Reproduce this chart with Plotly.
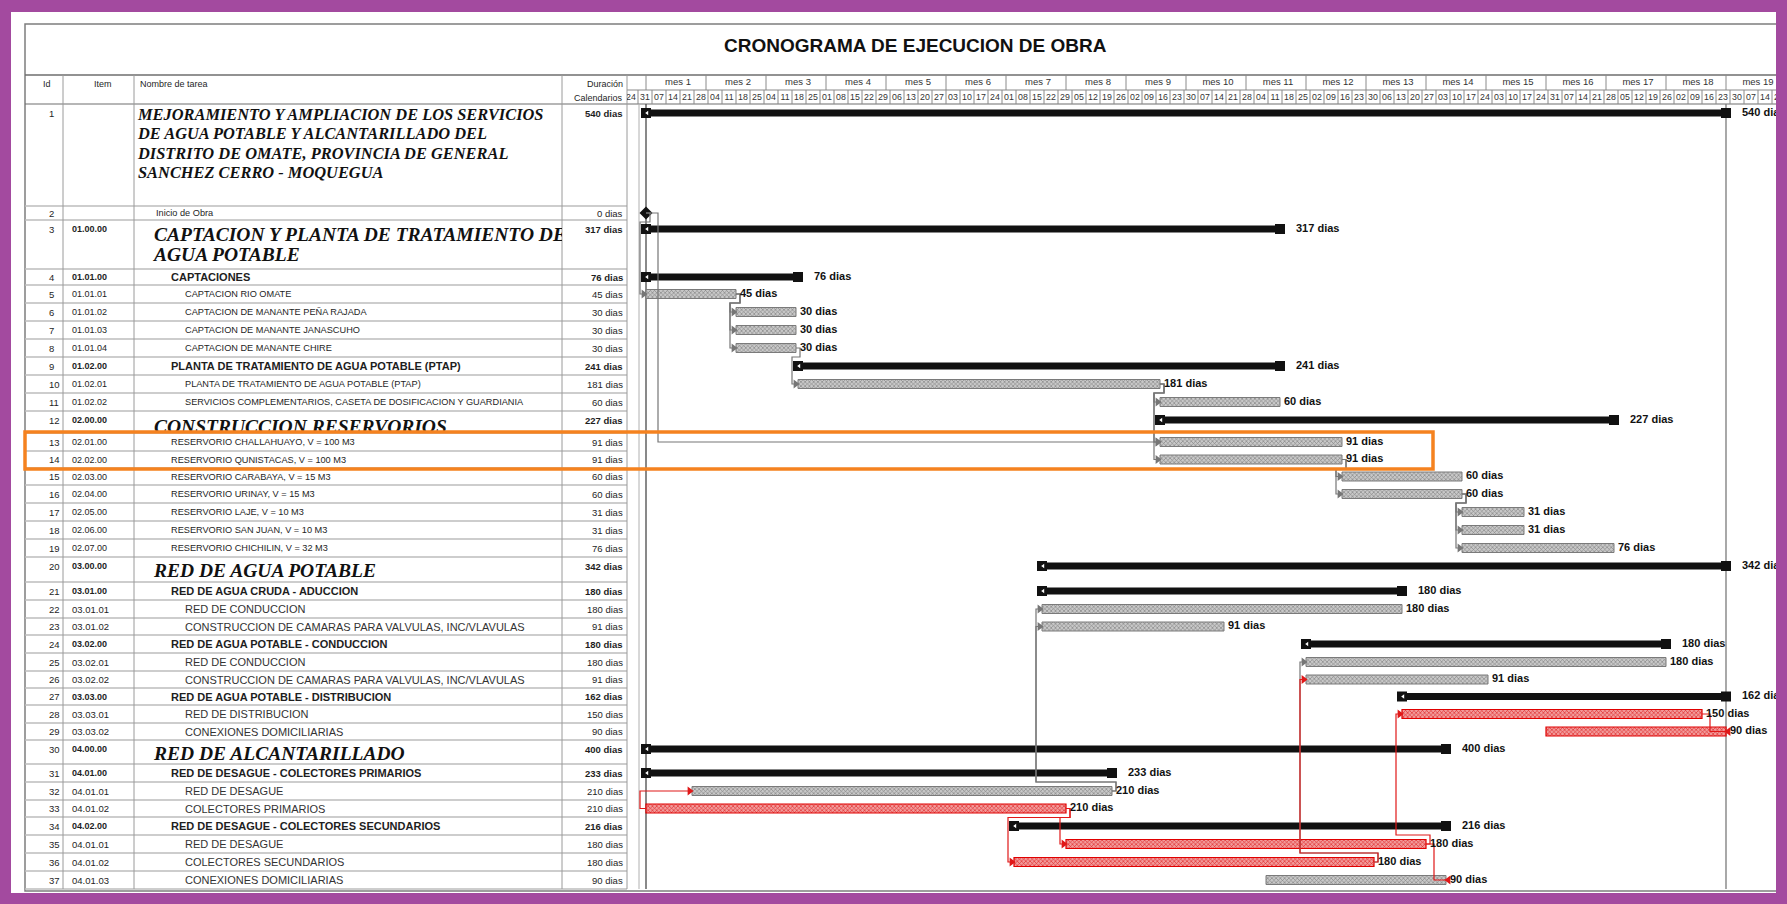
import datetime as dt
import plotly.graph_objects as go

# ---------------- data ----------------
task_ids = list(range(1, 38))
items = ["", "", "01.00.00", "01.01.00", "01.01.01", "01.01.02", "01.01.03", "01.01.04",
         "01.02.00", "01.02.01", "01.02.02", "02.00.00", "02.01.00", "02.02.00", "02.03.00",
         "02.04.00", "02.05.00", "02.06.00", "02.07.00", "03.00.00", "03.01.00", "03.01.01",
         "03.01.02", "03.02.00", "03.02.01", "03.02.02", "03.03.00", "03.03.01", "03.03.02",
         "04.00.00", "04.01.00", "04.01.01", "04.01.02", "04.02.00", "04.01.01", "04.01.02",
         "04.01.03"]
task_names = [
    "MEJORAMIENTO Y AMPLIACION DE LOS SERVICIOS<br>DE AGUA POTABLE Y ALCANTARILLADO DEL<br>"
    "DISTRITO DE OMATE, PROVINCIA DE GENERAL<br>SANCHEZ CERRO - MOQUEGUA",
    "Inicio de Obra",
    "CAPTACION Y PLANTA DE TRATAMIENTO DE<br>AGUA POTABLE",
    "CAPTACIONES",
    "CAPTACION RIO OMATE",
    "CAPTACION DE MANANTE PEÑA RAJADA",
    "CAPTACION DE MANANTE JANASCUHO",
    "CAPTACION DE MANANTE CHIRE",
    "PLANTA DE TRATAMIENTO DE AGUA POTABLE (PTAP)",
    "PLANTA DE TRATAMIENTO DE AGUA POTABLE (PTAP)",
    "SERVICIOS COMPLEMENTARIOS, CASETA DE DOSIFICACION Y GUARDIANIA",
    "CONSTRUCCION RESERVORIOS",
    "RESERVORIO CHALLAHUAYO, V = 100 M3",
    "RESERVORIO QUNISTACAS, V = 100 M3",
    "RESERVORIO CARABAYA, V = 15 M3",
    "RESERVORIO URINAY, V = 15 M3",
    "RESERVORIO LAJE, V = 10 M3",
    "RESERVORIO SAN JUAN, V = 10 M3",
    "RESERVORIO CHICHILIN, V = 32 M3",
    "RED DE AGUA POTABLE",
    "RED DE AGUA CRUDA - ADUCCION",
    "RED DE CONDUCCION",
    "CONSTRUCCION DE CAMARAS PARA VALVULAS, INC/VLAVULAS",
    "RED DE AGUA POTABLE - CONDUCCION",
    "RED DE CONDUCCION",
    "CONSTRUCCION DE CAMARAS PARA VALVULAS, INC/VLAVULAS",
    "RED DE AGUA POTABLE - DISTRIBUCION",
    "RED DE DISTRIBUCION",
    "CONEXIONES DOMICILIARIAS",
    "RED DE ALCANTARILLADO",
    "RED DE DESAGUE - COLECTORES PRIMARIOS",
    "RED DE DESAGUE",
    "COLECTORES PRIMARIOS",
    "RED DE DESAGUE - COLECTORES SECUNDARIOS",
    "RED DE DESAGUE",
    "COLECTORES SECUNDARIOS",
    "CONEXIONES DOMICILIARIAS",
]
durations = [540, 0, 317, 76, 45, 30, 30, 30, 241, 181, 60, 227, 91, 91, 60, 60, 31, 31, 76,
             342, 180, 180, 91, 180, 180, 91, 162, 150, 90, 400, 233, 210, 210, 216, 180, 180, 90]
starts = [0, 0, 0, 0, 0, 45, 45, 45, 76, 76, 257, 257, 257, 257, 348, 348, 408, 408, 408,
          198, 198, 198, 198, 330, 330, 330, 378, 378, 450, 0, 0, 23, 0, 184, 210, 184, 310]
# S = summary, M = milestone, T = task, C = critical task
task_types = ["S", "M", "S", "S", "T", "T", "T", "T", "S", "T", "T", "S", "T", "T", "T", "T",
              "T", "T", "T", "S", "S", "T", "T", "S", "T", "T", "S", "C", "C", "S", "S", "T",
              "C", "S", "C", "C", "T"]
outline_levels = [0, 1, 1, 2, 3, 3, 3, 3, 2, 3, 3, 1, 2, 2, 2, 2, 2, 2, 2, 1, 2, 3, 3, 2, 3,
                  3, 2, 3, 3, 1, 2, 3, 3, 2, 3, 3, 3]
# (predecessor, successor, type, critical)
links = [(2, 5, "FS", False), (2, 13, "FS", False), (5, 6, "FS", False), (5, 7, "FS", False),
         (5, 8, "FS", False), (8, 10, "FS", False), (10, 11, "FS", False),
         (10, 13, "FS", False), (10, 14, "FS", False), (14, 15, "FS", False),
         (14, 16, "FS", False), (16, 17, "FS", False), (16, 18, "FS", False),
         (16, 19, "FS", False), (32, 22, "FS", False), (32, 23, "FS", False),
         (36, 25, "FS", False), (33, 32, "SS", True), (33, 35, "FS", True),
         (33, 36, "FS", True), (36, 26, "FS", True), (35, 28, "FS", True),
         (28, 29, "FF", True), (35, 37, "FF", True)]

project_start = dt.date(2018, 1, 4)
first_week = dt.date(2017, 12, 24)
week_labels = [(first_week + dt.timedelta(days=7 * k)).strftime("%d") for k in range(84)]
month_labels = [f"mes {k}" for k in range(1, 20)]
header_cols = ["Id", "Item", "Nombre de tarea", "Duración", "Calendarios"]
chart_title = "CRONOGRAMA DE EJECUCION DE OBRA"

# ---------------- layout constants ----------------
W, H = 1787, 904
X0, PXD = 646, 2.0          # pixel of day 0, pixels per day
TL_L, TL_R = 627, 1777      # timeline area
COLS = [25, 63, 134, 562, 627]
HDR_TOP, HDR_MID, HDR_BOT = 75, 90, 104
row_heights = [102, 14, 49, 16, 18, 18, 18, 18, 18, 18, 18, 22, 18, 17, 17, 18, 18, 18, 18,
               25, 18, 18, 17, 18, 18, 17, 17, 18, 17, 24, 18, 18, 17, 18, 18, 18, 18]
TABLE_BOT = 104 + sum(row_heights)

NARROW = "Liberation Sans Narrow, Arial Narrow, Liberation Sans, sans-serif"
SANS = "Liberation Sans, Arial, sans-serif"
SERIF = "Liberation Serif, Times New Roman, serif"
TXT = "#1e1e1e"
GRID = "#bdbdbd"
week_offset = (first_week - project_start).days

tops = []
y = HDR_BOT
for h in row_heights:
    tops.append(y)
    y += h
row_mid = [t + h / 2 for t, h in zip(tops, row_heights)]
text_y = [t + min(h / 2, 9) for t, h in zip(tops, row_heights)]
bar_y = text_y

def xp(px):
    return px / W

def day(px):
    return (px - X0) / PXD

fig = go.Figure()
shapes = []
annotations = []

def hline(x0, x1, yy, color=GRID, width=1, ref="paper"):
    shapes.append(dict(type="line", xref=ref, yref="y", x0=x0, x1=x1, y0=yy, y1=yy,
                       line=dict(color=color, width=width), layer="below"))

def vline(xx, y0, y1, color=GRID, width=1, ref="paper"):
    shapes.append(dict(type="line", xref=ref, yref="y", x0=xx, x1=xx, y0=y0, y1=y1,
                       line=dict(color=color, width=width), layer="below"))

def label(x, yy, text, size=9, family=NARROW, bold=False, anchor="left", color=TXT):
    annotations.append(dict(x=xp(x), y=yy, xref="paper", yref="y",
                            text=f"<b>{text}</b>" if bold else text,
                            showarrow=False, xanchor=anchor, yanchor="middle",
                            font=dict(size=size, family=family, color=color)))

# ---- frame, header and table grid ----
shapes.append(dict(type="rect", xref="paper", yref="y", x0=xp(25), x1=xp(1800), y0=24,
                   y1=TABLE_BOT + 2, line=dict(color="#7d7d7d", width=1.5), layer="below"))
hline(xp(25), xp(1800), HDR_TOP, "#6e6e6e", 1.5)
hline(xp(25), xp(1800), HDR_BOT, "#6e6e6e", 1.2)
hline(xp(TL_L), xp(1800), HDR_MID, "#8a8a8a", 1)
for t in tops[1:] + [TABLE_BOT]:
    hline(xp(25), xp(TL_L), t, GRID, 1.3)
for c in COLS[1:]:
    vline(xp(c), HDR_TOP, TABLE_BOT, "#9a9a9a", 1)
vline(xp(639), HDR_BOT, TABLE_BOT, "#b0b0b0", 1)
vline(0, HDR_BOT, TABLE_BOT, "#4a4a4a", 1.3, ref="x")
vline(durations[0], HDR_BOT, TABLE_BOT, "#7a7a7a", 1.3, ref="x")

label(915, 45, chart_title, size=19, family=SANS, bold=True, anchor="center", color="#111")
label(47, 84, header_cols[0], size=9, anchor="center")
label(103, 84, header_cols[1], size=9, anchor="center")
label(138, 84, header_cols[2], size=9)
label(625, 84, header_cols[3], size=9, anchor="right")
label(625, 98, header_cols[4], size=9, anchor="right")

# timeline header: months (30 days) and weeks
m_x = []
for k, m in enumerate(month_labels):
    vline(30 * k, HDR_TOP, HDR_MID, "#8a8a8a", 1, ref="x")
    m_x.append(30 * k + 16)
w_x = []
for k, w in enumerate(week_labels):
    d0 = week_offset + 7 * k
    vline(d0, HDR_MID, HDR_BOT, "#8a8a8a", 1, ref="x")
    w_x.append(d0 + 3.5)
fig.add_trace(go.Scatter(x=m_x, y=[83] * len(m_x), mode="text", text=month_labels, xaxis="x",
                         yaxis="y", textfont=dict(size=9.5, family=NARROW, color="#333"),
                         hoverinfo="skip"))
fig.add_trace(go.Scatter(x=w_x, y=[97.5] * len(w_x), mode="text", text=week_labels, xaxis="x",
                         yaxis="y", textfont=dict(size=8.8, family=NARROW, color="#333"),
                         hoverinfo="skip"))

# ---- table text ----
indent = {0: 138, 1: 154, 2: 169, 3: 183}
big_rows = []
for i in range(len(task_ids)):
    summ = task_types[i] == "S"
    wide = items[i][:2] in ("03", "04") and not summ
    label(47, text_y[i], str(task_ids[i]), size=9.5)
    if items[i]:
        label(70, text_y[i], items[i], size=9.5 if wide else 9, bold=summ,
              family=SANS if wide else NARROW)
    if outline_levels[i] <= 1 and summ:
        big_rows.append(i)
    elif wide:
        label(indent[outline_levels[i]], row_mid[i], task_names[i], size=11, family=SANS,
              color="#333")
    elif summ:
        label(indent[outline_levels[i]], row_mid[i], task_names[i], size=11, bold=True)
    else:
        label(indent[outline_levels[i]], row_mid[i], task_names[i], size=9.2)
    label(625, text_y[i], f"{durations[i]} dias", size=9.5, bold=summ, anchor="right")

# big bold-italic section titles (clipped by their own axes, like the cell borders)
for i in big_rows:
    lines = task_names[i].split("<br>")
    if i == 0:
        fs, y_first, step = 16.4, tops[i] + 12, 19.4
    elif len(lines) > 1:
        fs, y_first, step = 19.5, tops[i] + 16, 20.5
    elif i == 11:
        fs, y_first, step = 19.5, tops[i] + 17, 0
    else:
        fs, y_first, step = 19.5, tops[i] + 15, 0
    fig.add_trace(go.Scatter(x=[indent[outline_levels[i]]] * len(lines),
                             y=[y_first + step * k for k in range(len(lines))],
                             mode="text", text=lines, textposition="middle right",
                             xaxis="x3", yaxis="y3" if i == 11 else "y", hoverinfo="skip",
                             textfont=dict(size=fs, family=SERIF, color="#111", weight="bold",
                                           style="italic")))

# ---- gantt bars ----
styles = {
    "T": dict(color="#c0c0c0", pattern=dict(shape="x", fgcolor="#7c7c7c", bgcolor="#c8c8c8",
                                            size=3, solidity=0.35, fillmode="replace"),
              line=dict(color="#7a7a7a", width=1)),
    "C": dict(color="#ef8a8a", pattern=dict(shape="x", fgcolor="#de2020", bgcolor="#f29a9a",
                                            size=3, solidity=0.35, fillmode="replace"),
              line=dict(color="#e00000", width=1.2)),
    "S": dict(color="#111111", line=dict(color="#111111", width=0)),
}
for kind, thick in (("T", 9), ("C", 9), ("S", 7)):
    idx = [i for i in range(len(task_ids)) if task_types[i] == kind]
    fig.add_trace(go.Bar(orientation="h", y=[bar_y[i] for i in idx],
                         x=[durations[i] for i in idx], base=[starts[i] for i in idx],
                         width=thick, marker=styles[kind], xaxis="x", yaxis="y",
                         hoverinfo="skip"))

summ_idx = [i for i in range(len(task_ids)) if task_types[i] == "S"]
fig.add_trace(go.Scatter(
    x=[starts[i] for i in summ_idx] + [starts[i] + durations[i] for i in summ_idx],
    y=[bar_y[i] for i in summ_idx] * 2, mode="markers", xaxis="x", yaxis="y", hoverinfo="skip",
    marker=dict(symbol="square", size=10, color="#111")))
fig.add_trace(go.Scatter(x=[starts[i] + 0.6 for i in summ_idx], y=[bar_y[i] for i in summ_idx],
                         mode="markers", xaxis="x", yaxis="y", hoverinfo="skip",
                         marker=dict(symbol="triangle-left", size=4, color="#ffffff")))
ms_idx = [i for i in range(len(task_ids)) if task_types[i] == "M"]
fig.add_trace(go.Scatter(x=[starts[i] for i in ms_idx], y=[bar_y[i] for i in ms_idx],
                         mode="markers", xaxis="x", yaxis="y", hoverinfo="skip",
                         marker=dict(symbol="diamond", size=10, color="#111")))

# ---- dependency links ----
for crit, color in ((False, "#767676"), (True, "#e01818")):
    lx, ly, ax, ay, asym = [], [], [], [], []
    for p, s, kind, c in links:
        if c != crit:
            continue
        pi, si = p - 1, s - 1
        yp, ys = bar_y[pi], bar_y[si]
        ps, pe = starts[pi], starts[pi] + durations[pi]
        ss, se = starts[si], starts[si] + durations[si]
        if kind == "FS":
            if ss > pe + 8:
                xs, yv = [pe, pe + 6, pe + 6, ss], [yp, yp, ys, ys]
            else:
                ym = yp + (9 if ys > yp else -9)
                xs, yv = [pe, pe + 2, pe + 2, ss - 3, ss - 3, ss], [yp, yp, ym, ym, ys, ys]
            ax.append(ss - 1.2)
            asym.append("triangle-right")
        elif kind == "SS":
            xs, yv = [ps, ps - 3, ps - 3, ss], [yp, yp, ys, ys]
            ax.append(ss - 1.2)
            asym.append("triangle-right")
        else:
            xs, yv = [pe, pe + 4, pe + 4, se], [yp, yp, ys, ys]
            ax.append(se + 1.2)
            asym.append("triangle-left")
        ay.append(ys)
        lx += xs + [None]
        ly += yv + [None]
    fig.add_trace(go.Scatter(x=lx, y=ly, mode="lines", line=dict(color=color, width=1.2),
                             xaxis="x", yaxis="y", hoverinfo="skip"))
    fig.add_trace(go.Scatter(x=ax, y=ay, mode="markers", xaxis="x", yaxis="y", hoverinfo="skip",
                             marker=dict(symbol=asym, size=8, color=color)))

# ---- bar labels ----
lab_idx = [i for i in range(len(task_ids)) if task_types[i] != "M"]
fig.add_trace(go.Scatter(
    x=[starts[i] + durations[i] + (8 if task_types[i] == "S" else 2) for i in lab_idx],
    y=[bar_y[i] for i in lab_idx], mode="text", textposition="middle right",
    text=[f"{durations[i]} dias" for i in lab_idx], xaxis="x", yaxis="y", hoverinfo="skip",
    textfont=dict(size=11, family=NARROW, color="#111", weight="bold")))

# ---- decorations above ----
PURPLE = "#A34A9F"
for x0, x1, y0, y1 in ((0, 11, 0, H), (1776, W, 0, H), (0, W, 0, 12), (0, W, 893, H)):
    shapes.append(dict(type="rect", xref="paper", yref="y", x0=xp(x0), x1=xp(x1), y0=y0, y1=y1,
                       fillcolor=PURPLE, line=dict(width=0), layer="above"))
shapes.append(dict(type="rect", xref="paper", yref="y", x0=xp(25), x1=xp(1433),
                   y0=tops[12] - 1, y1=tops[14] + 1, line=dict(color="#F5821F", width=3.5),
                   layer="above"))

fig.update_layout(
    width=W, height=H, margin=dict(l=0, r=0, t=0, b=0),
    paper_bgcolor="white", plot_bgcolor="rgba(0,0,0,0)", showlegend=False,
    barmode="overlay", shapes=shapes, annotations=annotations,
    xaxis=dict(domain=[xp(TL_L), xp(TL_R)], range=[day(TL_L), day(TL_R)], visible=False,
               fixedrange=True),
    yaxis=dict(domain=[0, 1], range=[H, 0], visible=False, fixedrange=True),
    xaxis3=dict(domain=[0, xp(COLS[3])], range=[0, COLS[3]], visible=False, anchor="y"),
    yaxis3=dict(domain=[1 - tops[12] / H, 1], range=[tops[12], 0], visible=False, anchor="x3"),
)
# the page body has a default 8px margin; remove it so the figure fills the window exactly
fig.write_html("out.html", config={"displayModeBar": False},
               post_script="document.body.style.margin='0px';")
